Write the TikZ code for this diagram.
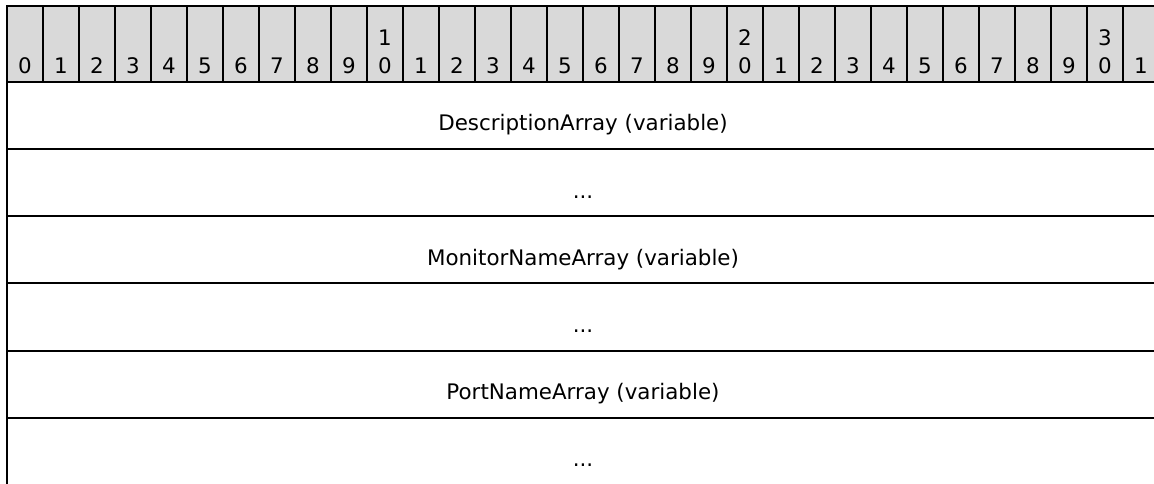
\documentclass[tikz,border=0pt]{standalone}
\usepackage{fontspec}
\setmainfont{DejaVu Sans}

\begin{document}
\begin{tikzpicture}[x=0.5pt, y=0.5pt]
  \tikzstyle{bit}=[draw, line width=1pt, fill=black!15, inner sep=0pt, minimum width=18pt, minimum height=37.85pt]
  \tikzstyle{bitnum}=[anchor=south, inner sep=0pt, yshift=4.35pt, align=center, font=\fontsize{10.7}{14}\selectfont]
  \tikzstyle{field}=[draw, line width=1pt, inner sep=0pt, minimum width=576pt, minimum height=33.6pt]
  \tikzstyle{fieldtext}=[anchor=base, inner sep=0pt, font=\fontsize{10.7}{14}\selectfont]

  \useasboundingbox (0, 0) rectangle (1154, 483);
  \clip (0, 0) rectangle (1154, 483);

  \node (b0) at (25, 439.15) [bit, label={[bitnum]south:0}] {};
  \node (b1) at (61, 439.15) [bit, label={[bitnum]south:1}] {};
  \node (b2) at (97, 439.15) [bit, label={[bitnum]south:2}] {};
  \node (b3) at (133, 439.15) [bit, label={[bitnum]south:3}] {};
  \node (b4) at (169, 439.15) [bit, label={[bitnum]south:4}] {};
  \node (b5) at (205, 439.15) [bit, label={[bitnum]south:5}] {};
  \node (b6) at (241, 439.15) [bit, label={[bitnum]south:6}] {};
  \node (b7) at (277, 439.15) [bit, label={[bitnum]south:7}] {};
  \node (b8) at (313, 439.15) [bit, label={[bitnum]south:8}] {};
  \node (b9) at (349, 439.15) [bit, label={[bitnum]south:9}] {};
  \node (b10) at (385, 439.15) [bit, label={[bitnum]south:1\\0}] {};
  \node (b11) at (421, 439.15) [bit, label={[bitnum]south:1}] {};
  \node (b12) at (457, 439.15) [bit, label={[bitnum]south:2}] {};
  \node (b13) at (493, 439.15) [bit, label={[bitnum]south:3}] {};
  \node (b14) at (529, 439.15) [bit, label={[bitnum]south:4}] {};
  \node (b15) at (565, 439.15) [bit, label={[bitnum]south:5}] {};
  \node (b16) at (601, 439.15) [bit, label={[bitnum]south:6}] {};
  \node (b17) at (637, 439.15) [bit, label={[bitnum]south:7}] {};
  \node (b18) at (673, 439.15) [bit, label={[bitnum]south:8}] {};
  \node (b19) at (709, 439.15) [bit, label={[bitnum]south:9}] {};
  \node (b20) at (745, 439.15) [bit, label={[bitnum]south:2\\0}] {};
  \node (b21) at (781, 439.15) [bit, label={[bitnum]south:1}] {};
  \node (b22) at (817, 439.15) [bit, label={[bitnum]south:2}] {};
  \node (b23) at (853, 439.15) [bit, label={[bitnum]south:3}] {};
  \node (b24) at (889, 439.15) [bit, label={[bitnum]south:4}] {};
  \node (b25) at (925, 439.15) [bit, label={[bitnum]south:5}] {};
  \node (b26) at (961, 439.15) [bit, label={[bitnum]south:6}] {};
  \node (b27) at (997, 439.15) [bit, label={[bitnum]south:7}] {};
  \node (b28) at (1033, 439.15) [bit, label={[bitnum]south:8}] {};
  \node (b29) at (1069, 439.15) [bit, label={[bitnum]south:9}] {};
  \node (b30) at (1105, 439.15) [bit, label={[bitnum]south:3\\0}] {};
  \node (b31) at (1141, 439.15) [bit, label={[bitnum]south:1}] {};

  \node (desc) at (583, 367.7) [field] {};
  \node (desclabel) at (583, 352.1) [fieldtext] {DescriptionArray (variable)};

  \node (descmore) at (583, 300.5) [field] {};
  \node (descmorelabel) at (583, 284.9) [fieldtext] {...};

  \node (monitor) at (583, 233.3) [field] {};
  \node (monitorlabel) at (583, 217.7) [fieldtext] {MonitorNameArray (variable)};

  \node (monitormore) at (583, 166.1) [field] {};
  \node (monitormorelabel) at (583, 150.5) [fieldtext] {...};

  \node (port) at (583, 98.9) [field] {};
  \node (portlabel) at (583, 83.3) [fieldtext] {PortNameArray (variable)};

  \node (portmore) at (583, 31.7) [field] {};
  \node (portmorelabel) at (583, 16.1) [fieldtext] {...};
\end{tikzpicture}
\end{document}
